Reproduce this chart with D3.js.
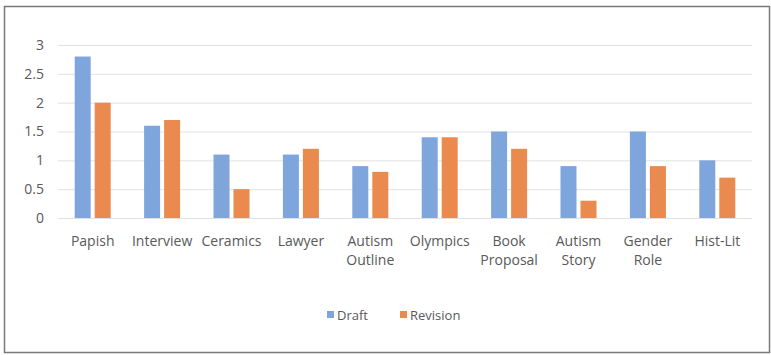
<!DOCTYPE html>
<html><head><meta charset="utf-8">
<script src="https://cdn.jsdelivr.net/npm/d3@7"></script>
<style>html,body{margin:0;padding:0;background:#fff;}svg{display:block;}</style>
</head><body>
<svg id="chart" width="771" height="355"></svg>
<script>
const categories = [["Papish"],["Interview"],["Ceramics"],["Lawyer"],["Autism","Outline"],["Olympics"],["Book","Proposal"],["Autism","Story"],["Gender","Role"],["Hist-Lit"]];
const draft = [2.8,1.6,1.1,1.1,0.9,1.4,1.5,0.9,1.5,1.0];
const revision = [2.0,1.7,0.5,1.2,0.8,1.4,1.2,0.3,0.9,0.7];
const yTicks = [0,0.5,1,1.5,2,2.5,3];
const seriesNames = ["Draft","Revision"];
const colors = ["#7ea6dc","#eb8a4f"];

(function(){
const svg = d3.select("#chart");
const font = "'Open Sans', 'Liberation Sans', sans-serif";
const textColor = "#595959";

svg.append("rect").attr("x",4.5).attr("y",6.5).attr("width",765).attr("height",346)
  .attr("fill","#fff").attr("stroke","#7a7a7a").attr("stroke-width",1.5);

const mLeft = 58, mRight = 752, mTop = 45, mBottom = 218;
const keys = categories.map((c,i)=>i);
const x = d3.scaleBand().domain(keys).range([mLeft,mRight]);
const y = d3.scaleLinear().domain([0,3]).range([mBottom,mTop]);

const yAxis = d3.axisLeft(y).tickValues(yTicks).tickSize(-(mRight-mLeft)).tickFormat(d3.format("~g"));
const gy = svg.append("g").attr("transform",`translate(${mLeft},0)`).call(yAxis);
gy.select(".domain").remove();
gy.selectAll(".tick line").attr("stroke","#e2e2e2").attr("stroke-width",1);
gy.selectAll(".tick text").attr("x",-14).attr("fill",textColor).style("font-family",font).style("font-size","14px");

const bw = 16, gap = 4;
const groups = svg.append("g");
[draft,revision].forEach((vals,s)=>{
  groups.selectAll(null).data(vals).enter().append("rect")
    .attr("x",(d,i)=>x(i)+x.bandwidth()/2 + (s===0 ? -gap/2-bw : gap/2))
    .attr("y",d=>y(d)).attr("width",bw).attr("height",d=>y(0)-y(d))
    .attr("fill",colors[s]);
});

const xAxis = d3.axisBottom(x).tickSize(0).tickFormat("");
const gx = svg.append("g").attr("transform",`translate(0,${mBottom})`).call(xAxis);
gx.select(".domain").remove();
gx.selectAll(".tick").each(function(i){
  const t = d3.select(this).append("text").attr("fill",textColor)
    .style("font-family",font).style("font-size","14px").attr("text-anchor","middle");
  categories[i].forEach((line,k)=>{
    t.append("tspan").attr("x",0).attr("y",28 + k*19).text(line);
  });
});

const legend = svg.append("g");
const legX = [327, 400];
seriesNames.forEach((n,s)=>{
  legend.append("rect").attr("x",legX[s]).attr("y",311).attr("width",7).attr("height",7).attr("fill",colors[s]);
  legend.append("text").attr("x",legX[s]+10).attr("y",320).text(n).attr("fill",textColor)
    .style("font-family",font).style("font-size","13px");
});
})();
</script>
</body></html>
